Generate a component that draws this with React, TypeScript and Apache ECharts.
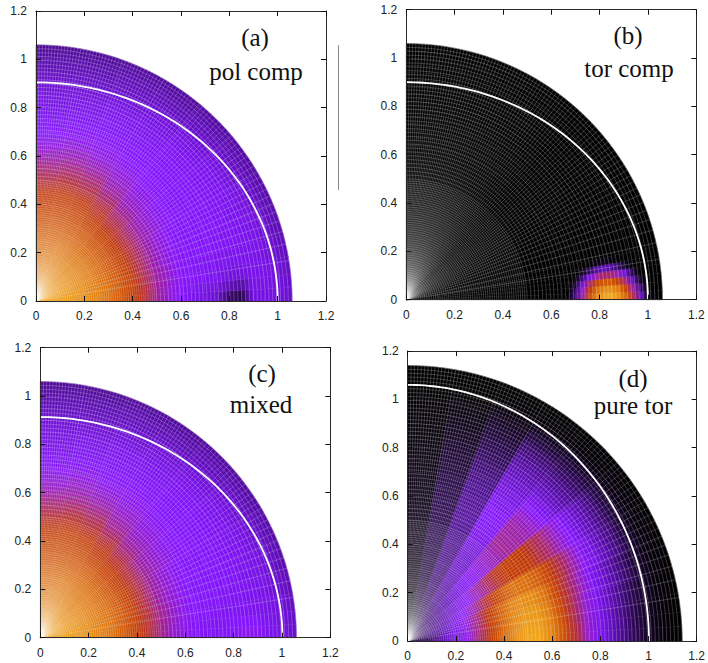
import React, { useEffect, useRef } from "react";
import * as echarts from "echarts";

const tickLabelFont = "Liberation Sans";
const captionFont = "Liberation Serif";

// Shared sampling of the (r, angle above the x axis in degrees) plane
const sharedAngles = [0, 3, 6, 10, 15, 22, 30, 40, 50, 60, 70, 80, 90];
const sharedRadii = [0, 0.05, 0.1, 0.15, 0.2, 0.25, 0.3, 0.35, 0.4, 0.45, 0.5, 0.55, 0.6, 0.65, 0.7, 0.75, 0.8, 0.85, 0.9, 0.95, 1.0, 1.06];
const pureTorRadii = [...sharedRadii, 1.14];

const polCompValues = [
  [96, 95, 94, 92, 89, 85, 80, 74, 68, 62, 55, 49, 45, 42, 40, 38, 22, 16, 40, 40, 40, 36],
  [96, 95, 94, 92, 89, 85, 80, 74, 68, 62, 55, 49, 46, 43, 41, 40, 34, 30, 41, 41, 40, 36],
  [96, 95, 94, 92, 89, 85, 80, 74, 68, 62, 55, 50, 46, 44, 43, 42, 40, 39, 42, 41, 40, 35],
  [96, 95, 93, 91, 88, 84, 79, 74, 68, 61, 55, 50, 46, 44, 43, 43, 42, 42, 42, 41, 38, 34],
  [96, 94, 93, 90, 87, 83, 78, 73, 67, 60, 54, 49, 46, 44, 44, 44, 43, 43, 42, 41, 37, 32],
  [95, 94, 92, 89, 86, 82, 77, 72, 66, 60, 54, 49, 46, 44, 44, 44, 44, 43, 42, 40, 36, 31],
  [95, 93, 91, 88, 85, 81, 76, 71, 65, 60, 54, 50, 47, 45, 44, 44, 44, 43, 42, 39, 35, 30],
  [95, 93, 90, 87, 84, 80, 76, 71, 66, 61, 56, 51, 48, 46, 45, 44, 44, 43, 41, 38, 34, 30],
  [94, 92, 89, 86, 83, 79, 76, 72, 67, 63, 59, 54, 50, 47, 45, 44, 43, 42, 40, 37, 33, 29],
  [94, 91, 88, 85, 82, 79, 76, 72, 69, 65, 61, 57, 52, 48, 46, 44, 43, 42, 39, 36, 33, 29],
  [93, 90, 87, 84, 81, 78, 75, 72, 69, 66, 62, 58, 53, 49, 46, 44, 42, 41, 38, 35, 32, 28],
  [92, 88, 85, 82, 79, 77, 74, 71, 68, 65, 61, 57, 52, 48, 45, 43, 41, 40, 38, 35, 32, 28],
];

const torCompAngles = [0, 2, 4, 6, 8, 10, 12, 90];
const torCompRadii = [0, 0.64, 0.67, 0.7, 0.73, 0.76, 0.79, 0.82, 0.85, 0.88, 0.91, 0.94, 0.97, 1.0, 1.03, 1.06];
const torCompValues = [
  [0, 0, 0, 25, 53, 72, 87, 95, 97, 89, 77, 60, 36, 5, 0, 0],
  [0, 0, 0, 20, 49, 66, 80, 88, 89, 82, 69, 53, 25, 0, 0, 0],
  [0, 0, 0, 10, 40, 58, 69, 75, 75, 68, 57, 36, 8, 0, 0, 0],
  [0, 0, 0, 1, 20, 41, 53, 58, 58, 52, 39, 17, 0, 0, 0, 0],
  [0, 0, 0, 0, 3, 16, 28, 33, 31, 24, 9, 0, 0, 0, 0, 0],
  [0, 0, 0, 0, 0, 0, 4, 5, 4, 1, 0, 0, 0, 0, 0, 0],
  [0, 0, 0, 0, 0, 0, 0, 0, 0, 0, 0, 0, 0, 0, 0, 0],
];

const mixedValues = [
  [96, 95, 94, 92, 89, 85, 80, 74, 68, 62, 56, 50, 47, 44, 43, 43, 44, 47, 46, 42, 41, 36],
  [96, 95, 94, 92, 89, 85, 80, 74, 68, 62, 56, 50, 47, 44, 43, 43, 44, 45, 44, 42, 40, 36],
  [96, 95, 94, 92, 89, 85, 80, 74, 68, 62, 56, 51, 47, 45, 44, 43, 43, 43, 42, 41, 40, 35],
  [96, 95, 93, 91, 88, 84, 80, 74, 68, 62, 56, 51, 47, 45, 44, 44, 43, 43, 42, 41, 38, 34],
  [96, 94, 93, 90, 87, 83, 79, 74, 68, 61, 55, 50, 47, 45, 44, 44, 44, 43, 42, 41, 37, 32],
  [95, 94, 92, 89, 86, 82, 78, 73, 67, 61, 55, 50, 47, 45, 44, 44, 44, 43, 42, 40, 36, 31],
  [95, 93, 91, 88, 85, 81, 77, 72, 66, 61, 55, 51, 48, 46, 45, 44, 44, 43, 42, 39, 35, 30],
  [95, 93, 90, 87, 84, 81, 77, 72, 67, 62, 57, 52, 49, 47, 45, 44, 44, 43, 41, 38, 34, 30],
  [94, 92, 89, 86, 83, 80, 77, 73, 68, 64, 60, 55, 51, 48, 46, 44, 43, 42, 40, 37, 33, 29],
  [94, 91, 88, 85, 82, 80, 77, 73, 70, 66, 62, 58, 53, 49, 46, 44, 43, 42, 39, 36, 33, 29],
  [93, 90, 87, 84, 82, 79, 76, 73, 70, 67, 63, 59, 54, 50, 47, 44, 42, 41, 38, 35, 32, 28],
  [92, 88, 85, 83, 80, 78, 75, 72, 69, 66, 62, 58, 53, 49, 46, 43, 41, 40, 38, 35, 32, 28],
];

const pureTorValues = [
  [8, 14, 22, 33, 42, 47, 58, 67, 78, 88, 96, 96, 86, 72, 62, 50, 42, 35, 26, 16, 8, 2, 0],
  [8, 14, 22, 33, 42, 47, 58, 67, 78, 88, 95, 95, 86, 72, 61, 50, 42, 35, 26, 16, 8, 2, 0],
  [8, 14, 22, 33, 41, 47, 57, 66, 77, 87, 94, 94, 85, 71, 60, 50, 42, 35, 26, 16, 8, 2, 0],
  [8, 15, 23, 33, 41, 47, 57, 66, 76, 86, 92, 92, 83, 70, 60, 50, 43, 36, 27, 17, 9, 2, 0],
  [8, 16, 25, 32, 41, 47, 56, 65, 75, 84, 89, 88, 80, 69, 60, 52, 44, 38, 30, 21, 10, 3, 0],
  [8, 16, 25, 31, 38, 45, 51, 60, 68, 75, 80, 79, 75, 68, 61, 54, 46, 41, 33, 25, 12, 3, 0],
  [8, 15, 22, 28, 35, 41, 46, 52, 58, 63, 67, 67, 66, 61, 57, 50, 45, 39, 33, 24, 12, 3, 0],
  [8, 14, 20, 27, 31, 36, 41, 44, 47, 50, 52, 55, 54, 53, 50, 45, 40, 34, 28, 20, 11, 2, 0],
  [6, 12, 17, 21, 27, 30, 33, 36, 37, 39, 41, 43, 44, 44, 42, 40, 37, 33, 28, 21, 10, 2, 0],
  [4, 8, 13, 15, 19, 21, 23, 25, 26, 27, 27, 29, 29, 28, 27, 25, 22, 18, 14, 10, 6, 1, 0],
  [2, 4, 7, 9, 10, 11, 12, 13, 14, 15, 15, 15, 15, 14, 13, 11, 10, 8, 6, 4, 3, 0, 0],
  [0, 1, 2, 3, 3, 4, 4, 4, 5, 5, 5, 5, 4, 4, 4, 3, 3, 2, 2, 1, 1, 0, 0],
];

const paletteStops: [number, number[]][] = [
  [0, [0, 0, 0]],
  [20, [52, 8, 100]],
  [35, [98, 14, 190]],
  [45, [134, 22, 255]],
  [55, [160, 32, 150]],
  [65, [190, 48, 0]],
  [80, [220, 112, 10]],
  [100, [244, 178, 32]],
];

function colorFor(v: number) {
  for (let i = 1; i < paletteStops.length; i++) {
    const [v1, c1] = paletteStops[i];
    const [v0, c0] = paletteStops[i - 1];
    if (v <= v1) {
      const t = (v - v0) / (v1 - v0);
      return `rgb(${c0.map((c, k) => Math.round(c + (c1[k] - c) * t)).join(",")})`;
    }
  }
  return "rgb(244,178,32)";
}

const RAD = Math.PI / 180;
const MESH_ANGLE_COUNT = 80;

const panels = [
  { left: 36, top: 11, angles: sharedAngles, radii: sharedRadii, values: polCompValues, outer: 1.06, surface: [1.0, 0.905] },
  { left: 406.3, top: 9.7, angles: torCompAngles, radii: torCompRadii, values: torCompValues, outer: 1.06, surface: [1.0, 0.9] },
  { left: 40.3, top: 347.7, angles: sharedAngles, radii: sharedRadii, values: mixedValues, outer: 1.06, surface: [1.002, 0.913] },
  { left: 407.7, top: 351, angles: sharedAngles, radii: pureTorRadii, values: pureTorValues, outer: 1.14, surface: [1.002, 1.06] },
];

const captions = [
  { text: "(a)", x: 255, y: 37 },
  { text: "pol comp", x: 256, y: 71 },
  { text: "(b)", x: 628, y: 35 },
  { text: "tor comp", x: 629, y: 68 },
  { text: "(c)", x: 262, y: 373 },
  { text: "mixed", x: 261, y: 404 },
  { text: "(d)", x: 633, y: 378 },
  { text: "pure tor", x: 633, y: 405 },
];

function heatSeries(panel: any, index: number) {
  const data: number[][] = [];
  panel.values.forEach((row: number[], a: number) => {
    for (let c = 0; c < row.length - 1; c++) {
      data.push([panel.radii[c], panel.angles[a], panel.radii[c + 1], panel.angles[a + 1], row[c], row[c + 1]]);
    }
  });
  return {
    type: "custom",
    xAxisIndex: index * 2,
    yAxisIndex: index * 2,
    silent: true,
    z: 2,
    clip: false,
    encode: { x: 0, y: 1 },
    data,
    renderItem: (_: any, api: any) => {
      const r0 = api.value(0);
      const a0 = api.value(1);
      const r1 = api.value(2);
      const a1 = api.value(3);
      const steps = Math.max(1, Math.ceil((a1 - a0) / 2));
      const pts: number[][] = [];
      for (let i = 0; i <= steps; i++) {
        const t = (a0 + ((a1 - a0) * i) / steps) * RAD;
        pts.push(api.coord([r1 * Math.cos(t), r1 * Math.sin(t)]));
      }
      for (let i = steps; i >= 0; i--) {
        const t = (a0 + ((a1 - a0) * i) / steps) * RAD;
        pts.push(api.coord([r0 * Math.cos(t), r0 * Math.sin(t)]));
      }
      const c = api.coord([0, 0]);
      const outerPx = api.coord([r1, 0])[0] - c[0];
      const fill = new echarts.graphic.RadialGradient(
        c[0],
        c[1],
        outerPx,
        [
          { offset: r0 / r1, color: colorFor(api.value(4)) },
          { offset: 1, color: colorFor(api.value(5)) },
        ],
        true
      );
      return { type: "polygon", shape: { points: pts }, style: { fill, stroke: fill, lineWidth: 0.5 } };
    },
  };
}

function meshSeries(panel: any, index: number) {
  const data: number[][] = [];
  for (let r = panel.outer; r > 0.01; r -= r > 0.5 ? 0.016 : 0.009) data.push([0, r]);
  for (let i = 1; i < MESH_ANGLE_COUNT; i++) {
    data.push([1, Math.acos(i / MESH_ANGLE_COUNT) / RAD]);
  }
  return {
    type: "custom",
    xAxisIndex: index * 2,
    yAxisIndex: index * 2,
    silent: true,
    z: 3,
    clip: false,
    encode: { x: 1 },
    data,
    renderItem: (_: any, api: any) => {
      const kind = api.value(0);
      const v = api.value(1);
      const pts: number[][] = [];
      if (kind === 0) {
        for (let d = 0; d <= 90; d += 3) {
          pts.push(api.coord([v * Math.cos(d * RAD), v * Math.sin(d * RAD)]));
        }
      } else {
        const t = (90 - v) * RAD;
        pts.push(api.coord([0, 0]));
        pts.push(api.coord([panel.outer * Math.sin(t), panel.outer * Math.cos(t)]));
      }
      return {
        type: "polyline",
        shape: { points: pts },
        style: { stroke: "rgba(255,255,255,0.27)", lineWidth: 0.8, fill: "none" },
      };
    },
  };
}

function surfaceSeries(panel: any, index: number) {
  return {
    type: "custom",
    xAxisIndex: index * 2,
    yAxisIndex: index * 2,
    silent: true,
    z: 4,
    clip: false,
    encode: { x: 0, y: 1 },
    data: [panel.surface],
    renderItem: (_: any, api: any) => {
      const pts: number[][] = [];
      for (let d = 0; d <= 90; d += 1) {
        pts.push(api.coord([api.value(0) * Math.cos(d * RAD), api.value(1) * Math.sin(d * RAD)]));
      }
      return { type: "polyline", shape: { points: pts }, style: { stroke: "#ffffff", lineWidth: 1.8, fill: "none" } };
    },
  };
}

function axis(gridIndex: number, position: string, labelled: boolean) {
  return {
    type: "value",
    gridIndex,
    position,
    min: 0,
    max: 1.2,
    interval: 0.2,
    z: 10,
    splitLine: { show: false },
    axisLine: { show: true, onZero: false, lineStyle: { color: "#2a2a2a", width: 1 } },
    axisTick: { show: true, inside: true, length: 5, lineStyle: { color: "#111", width: 1 } },
    axisLabel: {
      show: labelled,
      margin: 9,
      color: "#222",
      fontFamily: tickLabelFont,
      fontSize: 12,
    },
  };
}

export default function App() {
  const ref = useRef<HTMLDivElement>(null);
  useEffect(() => {
    const chart = echarts.init(ref.current!, undefined, { renderer: "svg" });
    const grid = panels.map((p) => ({ left: p.left, top: p.top, width: 290, height: 290 }));
    const xAxis: any[] = [];
    const yAxis: any[] = [];
    panels.forEach((_, i) => {
      xAxis.push(axis(i, "bottom", true), axis(i, "top", false));
      yAxis.push(axis(i, "left", true), axis(i, "right", false));
    });
    const series: any[] = [];
    panels.forEach((p, i) => {
      series.push(heatSeries(p, i), meshSeries(p, i), surfaceSeries(p, i));
    });
    chart.setOption({
      animation: false,
      grid,
      xAxis,
      yAxis,
      series,
      graphic: [
        ...captions.map((c) => ({
          type: "text",
          z: 20,
          x: c.x,
          y: c.y,
          style: {
            text: c.text,
            font: `25px "${captionFont}"`,
            fill: "#111",
            textAlign: "center",
            textVerticalAlign: "middle",
          },
        })),
        {
          type: "line",
          z: 20,
          shape: { x1: 338.5, y1: 45, x2: 338.5, y2: 190 },
          style: { stroke: "#8a8a8a", lineWidth: 1 },
        },
      ],
    });
    return () => chart.dispose();
  }, []);
  return <div ref={ref} style={{ position: "absolute", left: 0, top: 0, width: 708, height: 663, background: "#fff" }} />;
}
